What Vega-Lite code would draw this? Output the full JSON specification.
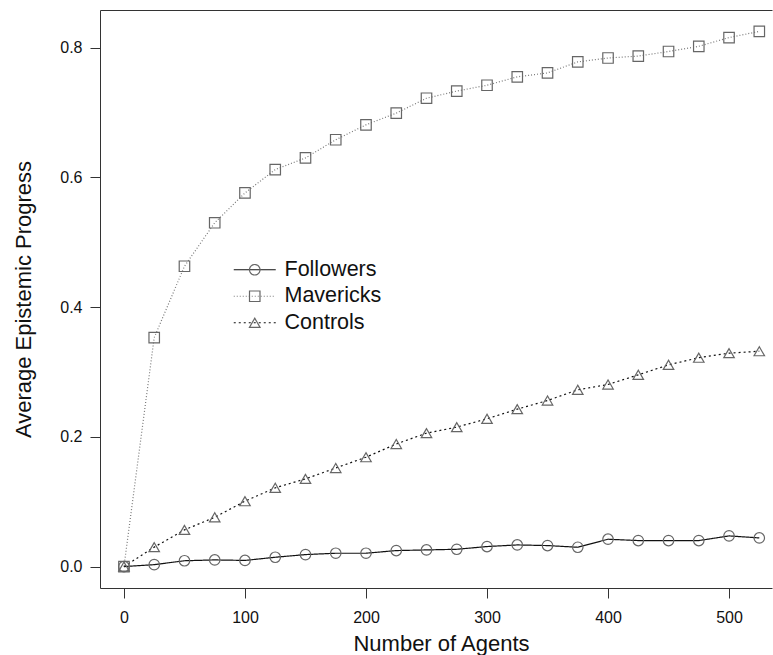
{
  "$schema": "https://vega.github.io/schema/vega-lite/v6.json",
  "width": 672,
  "height": 578,
  "autosize": {"type": "none"},
  "padding": {"left": 100, "top": 10, "right": 1, "bottom": 67},
  "background": "white",
  "config": {
    "view": {"stroke": null},
    "font": "Liberation Sans",
    "axis": {
      "grid": false,
      "domainColor": "#333333",
      "domainWidth": 1,
      "tickColor": "#333333",
      "tickWidth": 1,
      "tickSize": 10,
      "labelColor": "#111111",
      "labelFontSize": 16,
      "titleColor": "#111111",
      "titleFontSize": 22,
      "titleFontWeight": "normal"
    }
  },
  "datasets": {
    "curves": [
      {"group": "Followers", "agents": 0, "progress": 0},
      {"group": "Followers", "agents": 25, "progress": 0.003},
      {"group": "Followers", "agents": 50, "progress": 0.009},
      {"group": "Followers", "agents": 75, "progress": 0.0103},
      {"group": "Followers", "agents": 100, "progress": 0.0095},
      {"group": "Followers", "agents": 125, "progress": 0.0144},
      {"group": "Followers", "agents": 150, "progress": 0.0185},
      {"group": "Followers", "agents": 175, "progress": 0.0206},
      {"group": "Followers", "agents": 200, "progress": 0.0206},
      {"group": "Followers", "agents": 225, "progress": 0.0247},
      {"group": "Followers", "agents": 250, "progress": 0.0257},
      {"group": "Followers", "agents": 275, "progress": 0.0267},
      {"group": "Followers", "agents": 300, "progress": 0.0309},
      {"group": "Followers", "agents": 325, "progress": 0.0334},
      {"group": "Followers", "agents": 350, "progress": 0.0324},
      {"group": "Followers", "agents": 375, "progress": 0.0298},
      {"group": "Followers", "agents": 400, "progress": 0.0422},
      {"group": "Followers", "agents": 425, "progress": 0.0401},
      {"group": "Followers", "agents": 450, "progress": 0.0401},
      {"group": "Followers", "agents": 475, "progress": 0.0401},
      {"group": "Followers", "agents": 500, "progress": 0.0473},
      {"group": "Followers", "agents": 525, "progress": 0.0442},
      {"group": "Mavericks", "agents": 0, "progress": 0},
      {"group": "Mavericks", "agents": 25, "progress": 0.353},
      {"group": "Mavericks", "agents": 50, "progress": 0.463},
      {"group": "Mavericks", "agents": 75, "progress": 0.53},
      {"group": "Mavericks", "agents": 100, "progress": 0.576},
      {"group": "Mavericks", "agents": 125, "progress": 0.612},
      {"group": "Mavericks", "agents": 150, "progress": 0.63},
      {"group": "Mavericks", "agents": 175, "progress": 0.658},
      {"group": "Mavericks", "agents": 200, "progress": 0.681},
      {"group": "Mavericks", "agents": 225, "progress": 0.699},
      {"group": "Mavericks", "agents": 250, "progress": 0.722},
      {"group": "Mavericks", "agents": 275, "progress": 0.733},
      {"group": "Mavericks", "agents": 300, "progress": 0.742},
      {"group": "Mavericks", "agents": 325, "progress": 0.755},
      {"group": "Mavericks", "agents": 350, "progress": 0.761},
      {"group": "Mavericks", "agents": 375, "progress": 0.778},
      {"group": "Mavericks", "agents": 400, "progress": 0.784},
      {"group": "Mavericks", "agents": 425, "progress": 0.787},
      {"group": "Mavericks", "agents": 450, "progress": 0.794},
      {"group": "Mavericks", "agents": 475, "progress": 0.802},
      {"group": "Mavericks", "agents": 500, "progress": 0.8155},
      {"group": "Mavericks", "agents": 525, "progress": 0.825},
      {"group": "Controls", "agents": 0, "progress": 0},
      {"group": "Controls", "agents": 25, "progress": 0.03},
      {"group": "Controls", "agents": 50, "progress": 0.0566},
      {"group": "Controls", "agents": 75, "progress": 0.076},
      {"group": "Controls", "agents": 100, "progress": 0.1008},
      {"group": "Controls", "agents": 125, "progress": 0.1214},
      {"group": "Controls", "agents": 150, "progress": 0.1352},
      {"group": "Controls", "agents": 175, "progress": 0.152},
      {"group": "Controls", "agents": 200, "progress": 0.1686},
      {"group": "Controls", "agents": 225, "progress": 0.189},
      {"group": "Controls", "agents": 250, "progress": 0.2057},
      {"group": "Controls", "agents": 275, "progress": 0.215},
      {"group": "Controls", "agents": 300, "progress": 0.2278},
      {"group": "Controls", "agents": 325, "progress": 0.2427},
      {"group": "Controls", "agents": 350, "progress": 0.256},
      {"group": "Controls", "agents": 375, "progress": 0.2725},
      {"group": "Controls", "agents": 400, "progress": 0.2807},
      {"group": "Controls", "agents": 425, "progress": 0.2956},
      {"group": "Controls", "agents": 450, "progress": 0.311},
      {"group": "Controls", "agents": 475, "progress": 0.322},
      {"group": "Controls", "agents": 500, "progress": 0.329},
      {"group": "Controls", "agents": 525, "progress": 0.332}
    ]
  },
  "data": {"name": "curves"},
  "layer": [
    {
      "mark": {"type": "line", "strokeWidth": 1.2},
      "encoding": {
        "x": {
          "field": "agents",
          "type": "quantitative",
          "scale": {"domain": [-19.8, 535.5], "nice": false, "zero": false},
          "axis": {
            "orient": "bottom",
            "values": [0, 100, 200, 300, 400, 500],
            "labelPadding": 11,
            "title": "Number of Agents",
            "titleX": 341,
            "titleY": 62,
            "titleBaseline": "alphabetic",
            "titleAlign": "center",
            "labelFlush": false,
            "labelOverlap": false
          }
        },
        "y": {
          "field": "progress",
          "type": "quantitative",
          "scale": {"domain": [-0.033, 0.858], "nice": false, "zero": false},
          "axis": {
            "orient": "left",
            "values": [0, 0.2, 0.4, 0.6, 0.8],
            "format": ".1f",
            "labelPadding": 8,
            "title": "Average Epistemic Progress",
            "titleAngle": -90,
            "titleX": -77,
            "titleY": 289,
            "titleBaseline": "middle",
            "titleAlign": "center",
            "labelFlush": false,
            "labelOverlap": false
          }
        },
        "detail": {"field": "group"},
        "color": {
          "field": "group",
          "type": "nominal",
          "scale": {"domain": ["Followers", "Mavericks", "Controls"], "range": ["#111111", "#7a7a7a", "#111111"]},
          "legend": {
            "orient": "none",
            "legendX": 144,
            "legendY": 249,
            "padding": 0,
            "title": null,
            "symbolType": "M-4.2,0H4.2",
            "symbolSize": 100,
            "symbolStrokeWidth": 1.2,
            "labelFontSize": 21.5,
            "labelColor": "#111111",
            "labelOffset": 19,
            "rowPadding": 3.5
          }
        },
        "strokeDash": {
          "field": "group",
          "type": "nominal",
          "scale": {"domain": ["Followers", "Mavericks", "Controls"], "range": [[1, 0], [1, 2], [2, 3]]},
          "legend": {
            "orient": "none",
            "legendX": 144,
            "legendY": 249,
            "padding": 0,
            "title": null,
            "symbolType": "M-4.2,0H4.2",
            "symbolSize": 100,
            "symbolStrokeWidth": 1.2,
            "labelFontSize": 21.5,
            "labelColor": "#111111",
            "labelOffset": 19,
            "rowPadding": 3.5
          }
        }
      }
    },
    {
      "mark": {"type": "point", "filled": false, "stroke": "#666666", "strokeWidth": 1.2, "size": 110, "opacity": 1},
      "encoding": {
        "x": {
          "field": "agents",
          "type": "quantitative",
          "axis": {"orient": "top", "ticks": false, "labels": false, "title": null, "domain": true}
        },
        "y": {"field": "progress", "type": "quantitative"},
        "shape": {
          "field": "group",
          "type": "nominal",
          "sort": ["Followers", "Mavericks", "Controls"],
          "scale": {"range": ["circle", "square", "triangle-up"]},
          "legend": {
            "orient": "none",
            "legendX": 144,
            "legendY": 249,
            "padding": 0,
            "title": null,
            "symbolSize": 110,
            "symbolStrokeColor": "#666666",
            "symbolFillColor": "transparent",
            "symbolStrokeWidth": 1.2,
            "symbolDash": [1, 0],
            "labelFontSize": 21.5,
            "labelOpacity": 0,
            "labelOffset": 19,
            "rowPadding": 3.5
          }
        }
      }
    }
  ]
}
